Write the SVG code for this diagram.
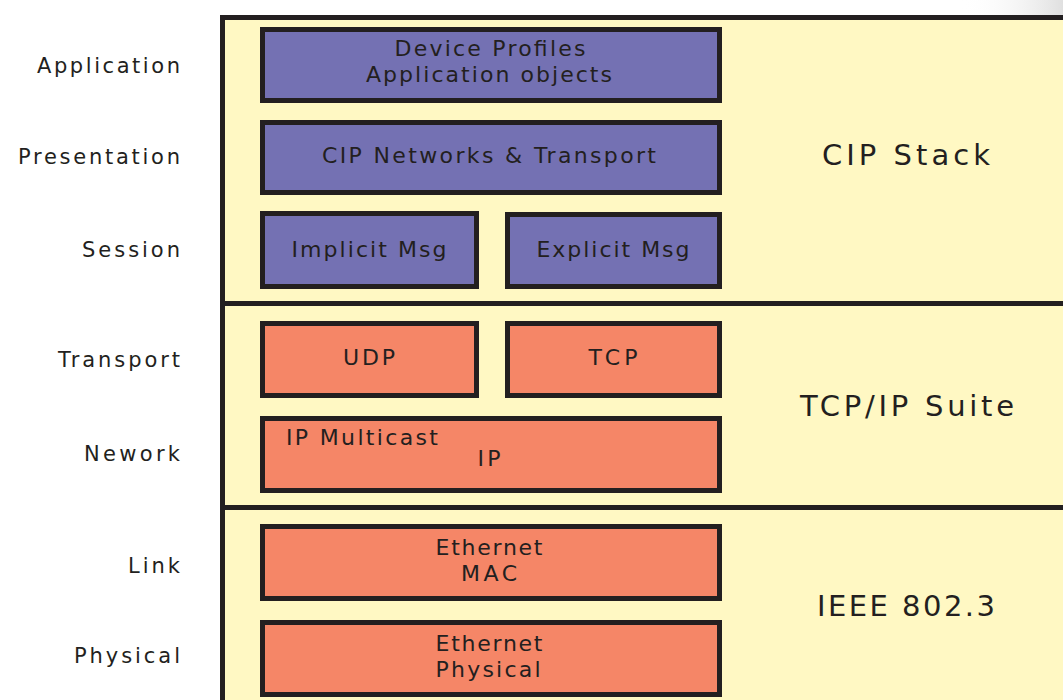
<svg xmlns="http://www.w3.org/2000/svg" width="1063" height="700" viewBox="0 0 1063 700">
  <defs>
    <linearGradient id="shade" x1="0" y1="0" x2="1" y2="0">
      <stop offset="0" stop-color="#ffffff" stop-opacity="0"/>
      <stop offset="1" stop-color="#dcdcdc" stop-opacity="0.9"/>
    </linearGradient>
    <style>
      .frame { fill: #FFF8C3; stroke: #231F20; stroke-width: 5; }
      .divider { stroke: #231F20; stroke-width: 5; fill: none; }
      .cip { fill: #7471B3; stroke: #231F20; stroke-width: 5; }
      .net { fill: #F58667; stroke: #231F20; stroke-width: 5; }
      text { font-family: "DejaVu Sans", "Liberation Sans", sans-serif; fill: #231F20; }
      .layer { font-size: 21px; text-anchor: end; }
      .lbl { font-size: 22px; text-anchor: middle; }
      .grp { font-size: 29px; text-anchor: middle; }
    </style>
  </defs>

  <rect width="1063" height="700" fill="#ffffff"/>
  <rect x="960" y="0" width="103" height="16" fill="url(#shade)"/>

  <!-- OSI layer names -->
  <g id="layers">
    <text class="layer" x="180" y="73" textLength="143" lengthAdjust="spacing">Application</text>
    <text class="layer" x="180" y="164" textLength="162" lengthAdjust="spacing">Presentation</text>
    <text class="layer" x="180" y="257" textLength="98" lengthAdjust="spacing">Session</text>
    <text class="layer" x="180" y="367" textLength="122" lengthAdjust="spacing">Transport</text>
    <text class="layer" x="180" y="461" textLength="96" lengthAdjust="spacing">Nework</text>
    <text class="layer" x="180" y="573" textLength="52" lengthAdjust="spacing">Link</text>
    <text class="layer" x="180" y="663" textLength="106" lengthAdjust="spacing">Physical</text>
  </g>

  <!-- stack frame and section dividers -->
  <g id="frame">
    <rect class="frame" x="222.5" y="17.5" width="860" height="700"/>
  </g>
  <g id="connectors">
    <line class="divider" x1="220" y1="303.5" x2="1063" y2="303.5"/>
    <line class="divider" x1="220" y1="507.5" x2="1063" y2="507.5"/>
  </g>

  <!-- CIP stack -->
  <g id="device-profiles">
    <rect class="cip" x="262.5" y="29.5" width="457" height="71"/>
    <text class="lbl" x="490" y="56" textLength="191" lengthAdjust="spacing">Device Profiles</text>
    <text class="lbl" x="489" y="82" textLength="246" lengthAdjust="spacing">Application objects</text>
  </g>
  <g id="cip-networks">
    <rect class="cip" x="262.5" y="122.5" width="457" height="70"/>
    <text class="lbl" x="489" y="163" textLength="334" lengthAdjust="spacing">CIP Networks &amp; Transport</text>
  </g>
  <g id="implicit-msg">
    <rect class="cip" x="262.5" y="213.5" width="214" height="73"/>
    <text class="lbl" x="369" y="257" textLength="155" lengthAdjust="spacing">Implicit Msg</text>
  </g>
  <g id="explicit-msg">
    <rect class="cip" x="507.5" y="214.5" width="212" height="72"/>
    <text class="lbl" x="613" y="257" textLength="153" lengthAdjust="spacing">Explicit Msg</text>
  </g>
  <text class="grp" x="906" y="165" textLength="168" lengthAdjust="spacing">CIP Stack</text>

  <!-- TCP/IP suite -->
  <g id="udp">
    <rect class="net" x="262.5" y="323.5" width="214" height="72"/>
    <text class="lbl" x="369" y="365" textLength="52" lengthAdjust="spacing">UDP</text>
  </g>
  <g id="tcp">
    <rect class="net" x="507.5" y="323.5" width="212" height="72"/>
    <text class="lbl" x="613" y="365" textLength="49" lengthAdjust="spacing">TCP</text>
  </g>
  <g id="ip">
    <rect class="net" x="262.5" y="418.5" width="457" height="72"/>
    <text class="lbl" x="362" y="445" textLength="152" lengthAdjust="spacing">IP Multicast</text>
    <text class="lbl" x="489" y="466" textLength="23" lengthAdjust="spacing">IP</text>
  </g>
  <text class="grp" x="907" y="416" textLength="214" lengthAdjust="spacing">TCP/IP Suite</text>

  <!-- IEEE 802.3 -->
  <g id="ethernet-mac">
    <rect class="net" x="262.5" y="526.5" width="457" height="72"/>
    <text class="lbl" x="489" y="555" textLength="107" lengthAdjust="spacing">Ethernet</text>
    <text class="lbl" x="489" y="581" textLength="56" lengthAdjust="spacing">MAC</text>
  </g>
  <g id="ethernet-physical">
    <rect class="net" x="262.5" y="622.5" width="457" height="72"/>
    <text class="lbl" x="489" y="651" textLength="107" lengthAdjust="spacing">Ethernet</text>
    <text class="lbl" x="488" y="677" textLength="105" lengthAdjust="spacing">Physical</text>
  </g>
  <text class="grp" x="906" y="616" textLength="178" lengthAdjust="spacing">IEEE 802.3</text>
</svg>
